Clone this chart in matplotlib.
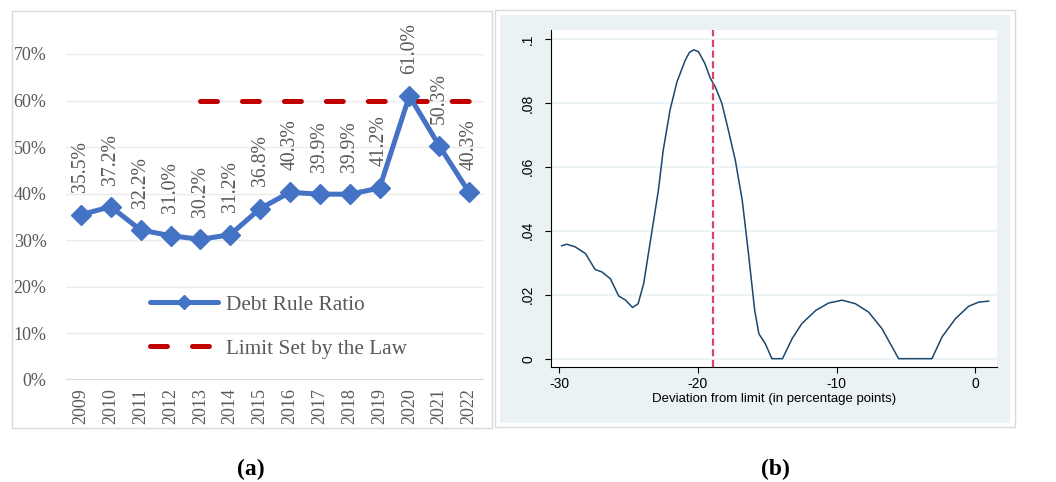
import matplotlib
matplotlib.use("Agg")
import matplotlib.pyplot as plt
from matplotlib.patches import Rectangle
from matplotlib.lines import Line2D

# ---- Panel (a): debt rule ratio vs. legal limit ----
years = ["2009", "2010", "2011", "2012", "2013", "2014", "2015",
         "2016", "2017", "2018", "2019", "2020", "2021", "2022"]
debt_ratio = [35.5, 37.2, 32.2, 31.0, 30.2, 31.2, 36.8,
              40.3, 39.9, 39.9, 41.2, 61.0, 50.3, 40.3]
limit_years = ["2013", "2014", "2015", "2016", "2017", "2018", "2019",
               "2020", "2021", "2022"]
limit_value = [60.0] * len(limit_years)
y_ticks_a = [0, 10, 20, 30, 40, 50, 60, 70]

# ---- Panel (b): density of deviation from limit ----
deviation = [-29.81, -29.45, -28.85, -28.1, -27.4, -26.9, -26.3, -25.7,
             -25.2, -24.7, -24.3, -23.9, -23.56, -23.2, -22.84, -22.5,
             -22.0, -21.5, -20.9, -20.6, -20.3, -19.95, -19.5, -19.1,
             -18.75, -18.27, -17.8, -17.3, -16.8, -16.35, -15.9, -15.6,
             -15.14, -14.66, -13.9, -13.2, -12.5, -11.5, -10.58, -9.6,
             -8.65, -7.7, -6.73, -6.13, -5.53, -3.13, -2.4, -1.44,
             -0.48, 0.24, 0.96]
density = [0.0353, 0.0358, 0.0350, 0.0329, 0.0279, 0.0271, 0.0250, 0.0196,
           0.0183, 0.0160, 0.0172, 0.0235, 0.0329, 0.0428, 0.0527, 0.0650,
           0.0778, 0.0866, 0.0934, 0.0958, 0.0966, 0.0960, 0.0924, 0.0877,
           0.0851, 0.0799, 0.0715, 0.0621, 0.0496, 0.0329, 0.0151, 0.0078,
           0.0047, 0.0, 0.0, 0.0063, 0.0110, 0.0151, 0.0174, 0.0183,
           0.0172, 0.0146, 0.0094, 0.0047, 0.0, 0.0, 0.0068, 0.0125,
           0.0164, 0.0177, 0.0180]
limit_position = -18.9
x_ticks_b = [-30, -20, -10, 0]
y_ticks_b = [0, 0.02, 0.04, 0.06, 0.08, 0.1]
y_ticklabels_b = ["0", ".02", ".04", ".06", ".08", ".1"]

W, H = 1056, 482
fig = plt.figure(figsize=(W / 100, H / 100), dpi=100)
fig.patch.set_facecolor("white")


def px_rect(x0, y0, x1, y1):
    """Figure-fraction rectangle from pixel corners (top-left origin)."""
    return [x0 / W, 1 - y1 / H, (x1 - x0) / W, (y1 - y0) / H]


# frames around the two panels
fig.add_artist(Rectangle((12 / W, 1 - 428 / H), 480 / W, 417 / H,
                         transform=fig.transFigure, facecolor="white",
                         edgecolor="#d9d9d9", lw=1.0, zorder=0))
fig.add_artist(Rectangle((495 / W, 1 - 427 / H), 520 / W, 417 / H,
                         transform=fig.transFigure, facecolor="white",
                         edgecolor="#d9d9d9", lw=1.0, zorder=0))
fig.add_artist(Rectangle((500 / W, 1 - 423 / H), 510 / W, 408 / H,
                         transform=fig.transFigure, facecolor="#eaf2f3",
                         edgecolor="none", zorder=0))

# ---------------- panel (a) ----------------
serif = "Liberation Serif"
grey_txt = "#595959"
ax1 = fig.add_axes(px_rect(66, 54, 484, 380))
ax1.set_facecolor("none")
xs = list(range(len(years)))
ax1.set_xlim(-0.5, len(years) - 0.5)
ax1.set_ylim(0, 70)
for v in y_ticks_a[1:]:
    ax1.axhline(v, color="#ebebeb", lw=1.0, zorder=0)
ax1.axhline(0, color="#d9d9d9", lw=1.6, zorder=1)
for s in ax1.spines.values():
    s.set_visible(False)
ax1.set_yticks(y_ticks_a)
ax1.set_yticklabels([f"{v}%" for v in y_ticks_a], fontfamily=serif,
                    fontsize=13, color=grey_txt)
ax1.set_xticks(xs)
ax1.set_xticklabels(years, rotation=90, fontfamily=serif, fontsize=13,
                    color=grey_txt)
ax1.tick_params(axis="both", length=0)
ax1.tick_params(axis="y", pad=14)
ax1.tick_params(axis="x", pad=6)

limit_x = [years.index(y) for y in limit_years]
dash_lw = 3.6
limit_dashes = (3.39, 5.0)
ax1.plot(limit_x, limit_value, color="#c00000", lw=dash_lw,
         dashes=limit_dashes, dash_capstyle="round",
         zorder=2, label="Limit Set by the Law")
ax1.plot(xs, debt_ratio, color="#4472c4", lw=3.6, marker="D", ms=10,
         solid_capstyle="round", solid_joinstyle="round",
         zorder=3, label="Debt Rule Ratio")
for x, v in zip(xs, debt_ratio):
    ax1.annotate(f"{v:.1f}%", (x, v), xytext=(0, 16),
                 textcoords="offset points", rotation=90, ha="center",
                 va="bottom", fontfamily=serif, fontsize=14.2, color=grey_txt,
                 annotation_clip=False, zorder=4)

handles = [
    Line2D([], [], color="#4472c4", lw=3.6, marker="D", ms=7,
           solid_capstyle="round"),
    Line2D([], [], color="#c00000", lw=dash_lw,
           dashes=limit_dashes, dash_capstyle="round"),
]
leg = ax1.legend(handles, ["Debt Rule Ratio", "Limit Set by the Law"],
                 loc="upper left", bbox_to_anchor=(150 / W, 1 - 295 / H),
                 bbox_transform=fig.transFigure, frameon=False,
                 prop={"family": serif, "size": 15.3}, handlelength=3.2,
                 handletextpad=0.38, labelspacing=1.13, borderaxespad=0,
                 borderpad=0)
for t in leg.get_texts():
    t.set_color(grey_txt)

# ---------------- panel (b) ----------------
sans = "Liberation Sans"
ax2 = fig.add_axes(px_rect(551, 30, 997, 367))
ax2.set_facecolor("white")
ax2.set_xlim(-30.58, 1.56)
ax2.set_ylim(-0.0026, 0.1028)
for v in y_ticks_b:
    ax2.axhline(v, color="#eaf2f3", lw=1.2, zorder=0)
ax2.plot(deviation, density, color="#1a476f", lw=1.1, zorder=2)
ax2.axvline(limit_position, color="#d6456b", lw=1.6, dashes=(3.2, 1.6),
            zorder=3)
ax2.spines["top"].set_visible(False)
ax2.spines["right"].set_visible(False)
ax2.spines["left"].set_color("#000000")
ax2.spines["bottom"].set_color("#000000")
ax2.spines["left"].set_linewidth(0.8)
ax2.spines["bottom"].set_linewidth(0.8)
ax2.set_xticks(x_ticks_b)
ax2.set_xticklabels([str(v) for v in x_ticks_b], fontfamily=sans,
                    fontsize=10)
ax2.set_yticks(y_ticks_b)
ax2.set_yticklabels(y_ticklabels_b, rotation=90, va="center",
                    fontfamily=sans, fontsize=10)
ax2.tick_params(axis="both", direction="out", length=4.5, width=0.8,
                color="#000000", pad=3)
ax2.tick_params(axis="y", pad=7)
ax2.set_xlabel("Deviation from limit (in percentage points)",
               fontfamily=sans, fontsize=9.5, labelpad=1)

# panel captions
fig.text(251 / W, 1 - 469 / H, "(a)", ha="center", va="center",
         fontfamily=serif, fontweight="bold", fontsize=17)
fig.text(775 / W, 1 - 469 / H, "(b)", ha="center", va="center",
         fontfamily=serif, fontweight="bold", fontsize=17)

fig.savefig("out.png", dpi=100, facecolor="white")
